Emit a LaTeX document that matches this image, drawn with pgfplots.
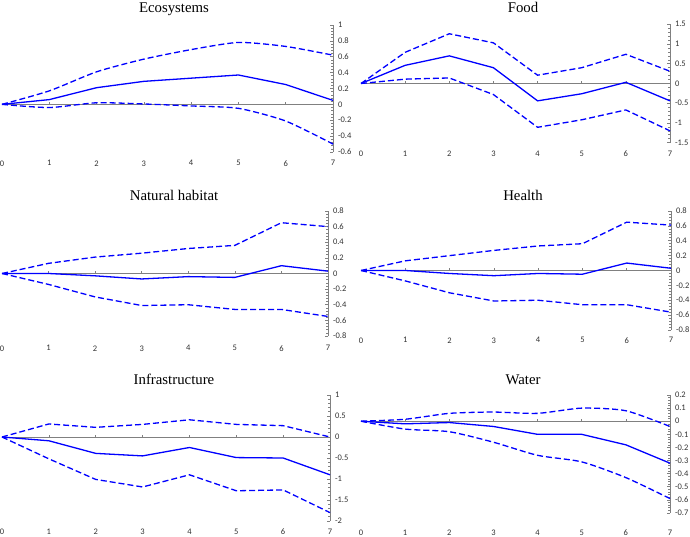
\documentclass[border=0pt]{standalone}
\usepackage{fontspec}
\setmainfont{Liberation Serif}
\newfontfamily\tickfont{Carlito}
\usepackage{pgfplots}
\pgfplotsset{compat=1.18}

\definecolor{irfblue}{RGB}{0,0,255}
\definecolor{axgray}{RGB}{128,128,128}
\definecolor{lblgray}{RGB}{50,50,50}

\pgfplotsset{
  panel/.style={
    scale only axis,
    clip=false,
    axis y line*=right,
    axis x line*=bottom,
    x axis line style={draw=none},
    y axis line style={axgray, line width=0.8pt},
    xmin=0, xmax=7,
    xtick={0,...,7},
    xtick style={draw=none},
    ytick style={axgray, line width=0.6pt},
    major tick length=3pt,
    minor tick length=1.8pt,
    minor y tick num=4,
    tick label style={font=\tickfont\fontsize{8.5}{9}\selectfont, text=lblgray},
    yticklabel style={xshift=1.5pt},
    /pgf/number format/assume math mode=true,
    /pgf/number format/fixed,
    /pgf/number format/precision=2,
  },
  irf/.style={irfblue, line width=1.3pt},
  band/.style={irfblue, line width=1.3pt, dash pattern=on 6pt off 3pt},
}

\newcommand{\zeroline}{%
  \draw[axgray, line width=0.8pt] (axis cs:0,0) -- (axis cs:7,0);
  \pgfplotsinvokeforeach{1,...,6}{\draw[axgray, line width=0.6pt] (axis cs:##1,0) -- ++(0pt,2pt);}
}

\begin{document}
\begin{tikzpicture}
\useasboundingbox (0pt,0pt) rectangle (690pt,537pt);

% titles
\begin{scope}[font=\fontsize{14.8}{16}\selectfont]
\node[anchor=base] at (174pt,524pt) {Ecosystems};
\node[anchor=base] at (523pt,524pt) {Food};
\node[anchor=base] at (174pt,336pt) {Natural habitat};
\node[anchor=base] at (523pt,336pt) {Health};
\node[anchor=base] at (174pt,152.7pt) {Infrastructure};
\node[anchor=base] at (523pt,152.7pt) {Water};
\end{scope}

% Ecosystems
\begin{axis}[panel, at={(2pt,385pt)}, anchor=south west, width=331pt, height=127pt,
  ymin=-0.6, ymax=1, ytick={-0.6,-0.4,...,1.01},
  xticklabel style={yshift=-5pt}]
\zeroline
\addplot[band, smooth, tension=0.4] coordinates {(0,0)(1,0.17)(2,0.41)(3,0.57)(4,0.69)(5,0.78)(6,0.73)(7,0.62)};
\addplot[irf] coordinates {(0,0)(1,0.06)(2,0.21)(3,0.29)(4,0.33)(5,0.37)(6,0.25)(7,0.05)};
\addplot[band, smooth, tension=0.4] coordinates {(0,0)(1,-0.04)(2,0.02)(3,0.005)(4,-0.02)(5,-0.05)(6,-0.21)(7,-0.50)};
\end{axis}

% Food
\begin{axis}[panel, at={(361pt,394.3pt)}, anchor=south west, width=309pt, height=118.4pt,
  ymin=-1.5, ymax=1.5, ytick={-1.5,-1,...,1.5},
  xticklabel style={yshift=-5pt}]
\zeroline
\addplot[band] coordinates {(0,0)(1,0.79)(2,1.26)(3,1.03)(4,0.21)(5,0.40)(6,0.74)(7,0.31)};
\addplot[irf] coordinates {(0,0)(1,0.46)(2,0.70)(3,0.40)(4,-0.44)(5,-0.26)(6,0.03)(7,-0.44)};
\addplot[band] coordinates {(0,0)(1,0.11)(2,0.14)(3,-0.28)(4,-1.11)(5,-0.92)(6,-0.67)(7,-1.20)};
\end{axis}

% Natural habitat
\begin{axis}[panel, at={(2pt,201pt)}, anchor=south west, width=326pt, height=125pt,
  ymin=-0.8, ymax=0.8, ytick={-0.8,-0.6,...,0.81},
  xticklabel style={yshift=-6pt}]
\zeroline
\addplot[band] coordinates {(0,0)(1,0.13)(2,0.21)(3,0.26)(4,0.32)(5,0.36)(6,0.65)(7,0.60)};
\addplot[irf] coordinates {(0,0)(1,0)(2,-0.03)(3,-0.07)(4,-0.04)(5,-0.05)(6,0.10)(7,0.03)};
\addplot[band] coordinates {(0,0)(1,-0.14)(2,-0.30)(3,-0.41)(4,-0.40)(5,-0.46)(6,-0.46)(7,-0.55)};
\end{axis}

% Health
\begin{axis}[panel, at={(361pt,207pt)}, anchor=south west, width=310pt, height=119pt,
  ymin=-0.8, ymax=0.8, ytick={-0.8,-0.6,...,0.81},
  xticklabel style={yshift=-4pt}]
\zeroline
\addplot[band] coordinates {(0,0)(1,0.13)(2,0.20)(3,0.27)(4,0.33)(5,0.36)(6,0.65)(7,0.61)};
\addplot[irf] coordinates {(0,0)(1,0)(2,-0.04)(3,-0.07)(4,-0.04)(5,-0.05)(6,0.10)(7,0.03)};
\addplot[band] coordinates {(0,0)(1,-0.14)(2,-0.30)(3,-0.41)(4,-0.40)(5,-0.46)(6,-0.46)(7,-0.56)};
\end{axis}

% Infrastructure
\begin{axis}[panel, at={(2pt,16pt)}, anchor=south west, width=328pt, height=126pt,
  ymin=-2, ymax=1, ytick={-2,-1.5,...,1},
  xticklabel style={yshift=-4.5pt}]
\zeroline
\addplot[band] coordinates {(0,0)(1,0.31)(2,0.23)(3,0.30)(4,0.41)(5,0.30)(6,0.27)(7,0.0)};
\addplot[irf] coordinates {(0,0)(1,-0.09)(2,-0.39)(3,-0.45)(4,-0.25)(5,-0.49)(6,-0.50)(7,-0.90)};
\addplot[band] coordinates {(0,0)(1,-0.52)(2,-1.01)(3,-1.19)(4,-0.90)(5,-1.28)(6,-1.26)(7,-1.80)};
\end{axis}

% Water
\begin{axis}[panel, at={(361pt,24pt)}, anchor=south west, width=309pt, height=118pt,
  ymin=-0.7, ymax=0.2, ytick={-0.7,-0.6,...,0.21},
  xticklabel style={yshift=-13.5pt}]
\zeroline
\addplot[band, smooth, tension=0.4] coordinates {(0,0)(1,0.015)(2,0.06)(3,0.07)(4,0.06)(5,0.10)(6,0.08)(7,-0.04)};
\addplot[irf] coordinates {(0,0)(1,-0.02)(2,-0.01)(3,-0.04)(4,-0.10)(5,-0.10)(6,-0.18)(7,-0.32)};
\addplot[band, smooth, tension=0.4] coordinates {(0,0)(1,-0.06)(2,-0.08)(3,-0.16)(4,-0.26)(5,-0.31)(6,-0.43)(7,-0.59)};
\end{axis}
\end{tikzpicture}
\end{document}
